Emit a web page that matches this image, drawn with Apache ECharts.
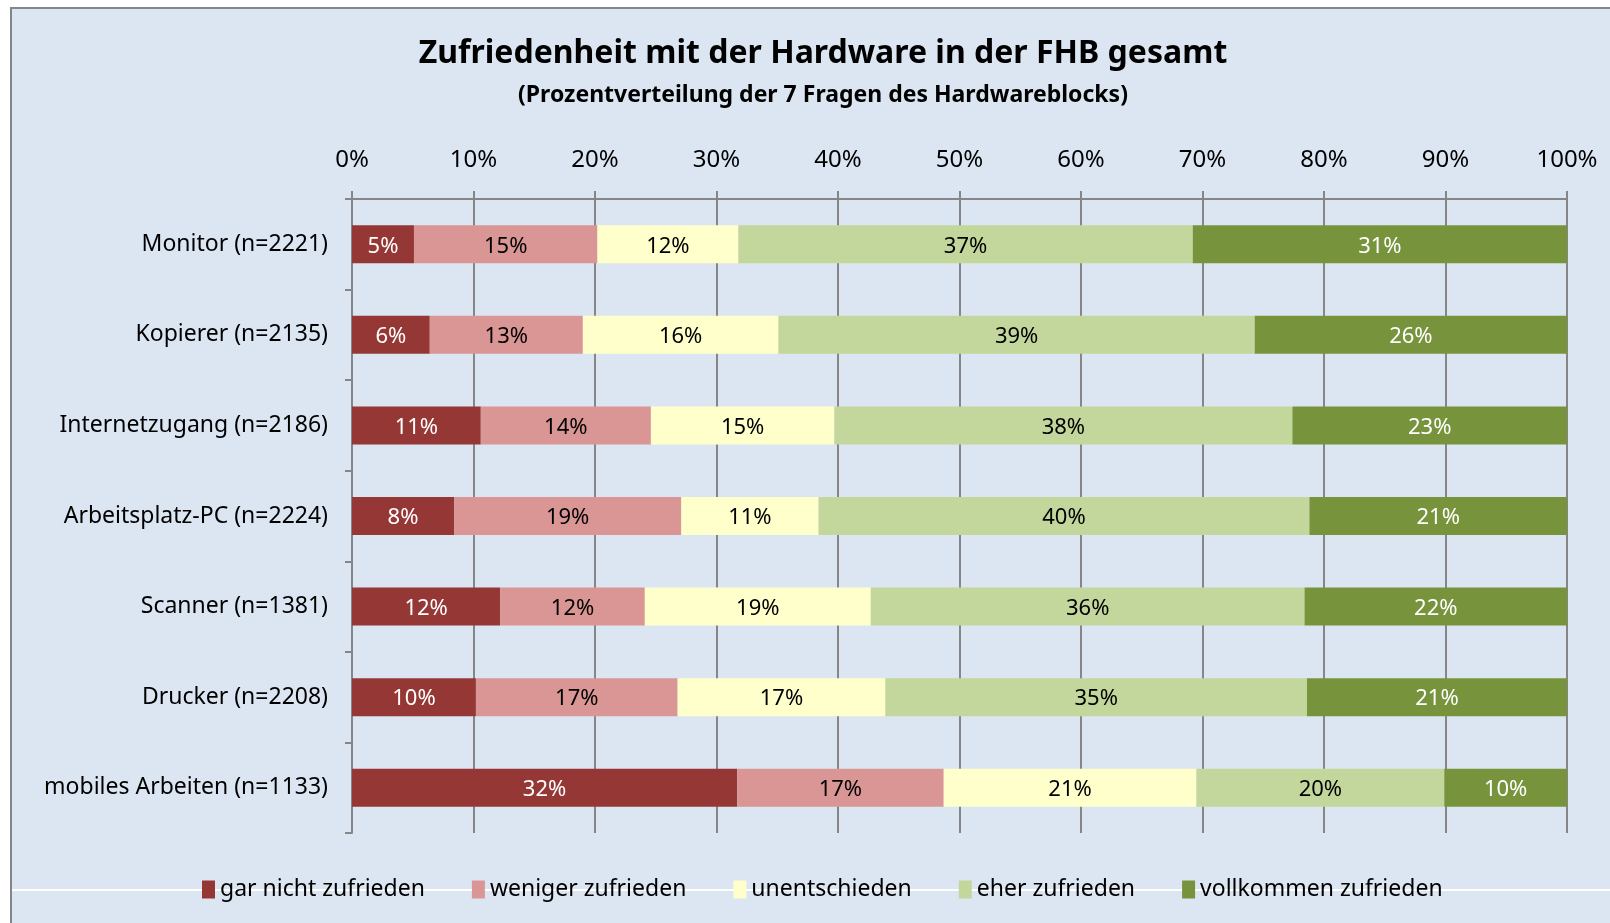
<!DOCTYPE html>
<html>
<head>
<meta charset="utf-8">
<script src="https://cdn.jsdelivr.net/npm/echarts@6/dist/echarts.min.js"></script>
<style>
  html, body { margin: 0; padding: 0; background: #fff; }
  #chart { width: 1610px; height: 923px; }
</style>
</head>
<body>
<div id="chart"></div>
<script>
// Daten (Prozentanteile je Gerät, von oben nach unten)
const categories = [
  "Monitor (n=2221)",
  "Kopierer (n=2135)",
  "Internetzugang (n=2186)",
  "Arbeitsplatz-PC (n=2224)",
  "Scanner (n=1381)",
  "Drucker (n=2208)",
  "mobiles Arbeiten (n=1133)"
];
const seriesNames = ["gar nicht zufrieden", "weniger zufrieden", "unentschieden", "eher zufrieden", "vollkommen zufrieden"];
const garNicht = [5.1, 6.4, 10.6, 8.4, 12.2, 10.2, 31.7];
const weniger = [15.1, 12.6, 14.0, 18.7, 11.9, 16.6, 17.0];
const unentschieden = [11.6, 16.1, 15.1, 11.3, 18.6, 17.1, 20.8];
const eher = [37.4, 39.2, 37.7, 40.4, 35.7, 34.7, 20.4];
const vollkommen = [30.8, 25.7, 22.6, 21.2, 21.6, 21.4, 10.1];
const xTicks = [0, 10, 20, 30, 40, 50, 60, 70, 80, 90, 100];

const colors = ["#953735", "#D99694", "#FFFFCC", "#C3D69B", "#77933C"];
const labelColors = ["#fff", "#000", "#000", "#000", "#fff"];
const values = [garNicht, weniger, unentschieden, eher, vollkommen];
const font = "'Noto Sans', 'DejaVu Sans', sans-serif";
const gridColor = "#868686";

let myChart = echarts.init(document.getElementById("chart"));

let series = seriesNames.map(function (name, i) {
  return {
    name: name,
    type: "bar",
    stack: "total",
    barWidth: 38,
    itemStyle: { color: colors[i] },
    label: {
      show: true,
      position: "inside",
      offset: [0, 2],
      color: labelColors[i],
      fontFamily: font,
      fontSize: 22,
      formatter: function (p) {
        return Math.round(p.value) + "%";
      }
    },
    data: values[i]
  };
});

var option = {
  backgroundColor: "#fff",
  animation: false,
  graphic: [
    {
      type: "rect",
      z: -10,
      shape: { x: 11, y: 8, width: 1640, height: 960 },
      style: { fill: "#DCE6F2", stroke: gridColor, lineWidth: 2 }
    },
    {
      type: "line",
      z: -5,
      shape: { x1: 12, y1: 890, x2: 1610, y2: 890 },
      style: { stroke: "#fff", lineWidth: 2 }
    }
  ],
  title: {
    text: "Zufriedenheit mit der Hardware in der FHB gesamt",
    subtext: "(Prozentverteilung der 7 Fragen des Hardwareblocks)",
    left: 818,
    textAlign: "center",
    top: 33,
    itemGap: 14,
    textStyle: { fontFamily: font, fontSize: 32, fontWeight: "bold", color: "#000" },
    subtextStyle: { fontFamily: font, fontSize: 23, fontWeight: "bold", color: "#000" }
  },
  legend: {
    data: seriesNames,
    left: 197,
    top: 873,
    icon: "rect",
    itemWidth: 13,
    itemHeight: 18,
    itemGap: 47,
    textStyle: { fontFamily: font, fontSize: 23, color: "#000" }
  },
  grid: {
    left: 352,
    right: 43,
    top: 199,
    bottom: 90,
    containLabel: false
  },
  xAxis: {
    type: "value",
    position: "top",
    min: xTicks[0],
    max: xTicks[xTicks.length - 1],
    interval: xTicks[1] - xTicks[0],
    axisLine: { show: true, lineStyle: { color: gridColor, width: 2 } },
    axisTick: { show: true, length: 8, lineStyle: { color: gridColor, width: 2 } },
    splitLine: { show: true, lineStyle: { color: gridColor, width: 2 } },
    axisLabel: {
      margin: 27,
      fontFamily: font,
      fontSize: 24,
      color: "#000",
      formatter: "{value}%"
    }
  },
  yAxis: {
    type: "category",
    inverse: true,
    data: categories,
    axisLine: { show: true, lineStyle: { color: gridColor, width: 2 } },
    axisTick: { show: true, length: 7, lineStyle: { color: gridColor, width: 2 } },
    axisLabel: {
      margin: 24,
      padding: [5, 0, 0, 0],
      fontFamily: font,
      fontSize: 23,
      color: "#000"
    }
  },
  series: series
};

myChart.setOption(option);
</script>
</body>
</html>
